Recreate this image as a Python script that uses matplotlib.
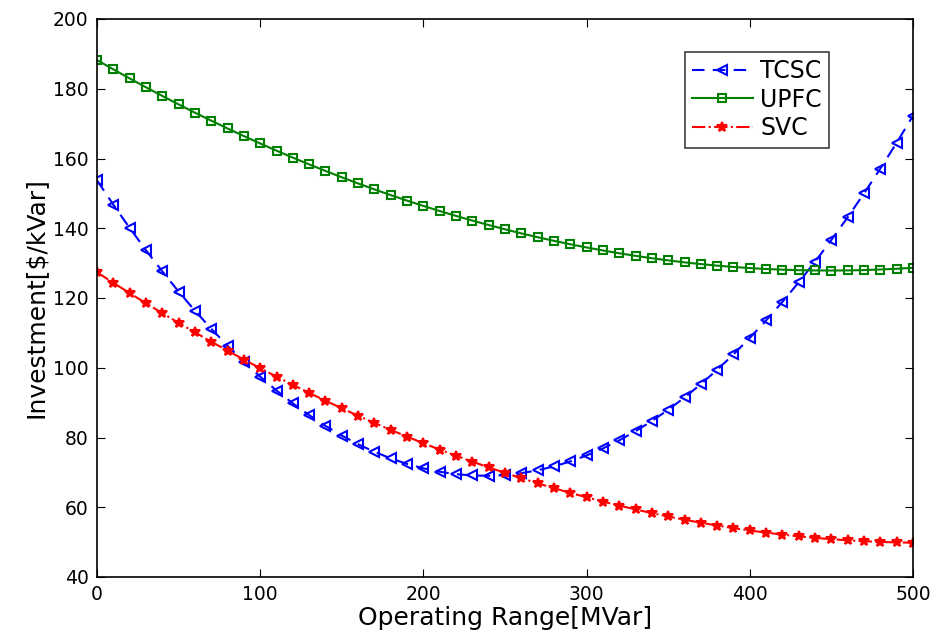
import matplotlib
matplotlib.use("Agg")
import matplotlib.pyplot as plt

x = list(range(0, 501, 10))

tcsc = [153.75, 146.77, 140.09, 133.71, 127.63, 121.85, 116.37, 111.19, 106.31, 101.73,
        97.45, 93.47, 89.79, 86.41, 83.33, 80.55, 78.07, 75.89, 74.01, 72.43,
        71.15, 70.17, 69.49, 69.11, 69.03, 69.25, 69.77, 70.59, 71.71, 73.13,
        74.85, 76.87, 79.19, 81.81, 84.73, 87.95, 91.47, 95.29, 99.41, 103.83,
        108.55, 113.57, 118.89, 124.51, 130.43, 136.65, 143.17, 149.99, 157.11, 164.53,
        172.25]

upfc = [188.22, 185.56, 182.96, 180.42, 177.94, 175.52, 173.15, 170.85, 168.61, 166.43,
        164.31, 162.25, 160.25, 158.31, 156.43, 154.61, 152.84, 151.14, 149.50, 147.92,
        146.40, 144.94, 143.54, 142.20, 140.92, 139.70, 138.53, 137.43, 136.39, 135.41,
        134.49, 133.63, 132.83, 132.09, 131.41, 130.79, 130.22, 129.72, 129.28, 128.90,
        128.58, 128.32, 128.12, 127.98, 127.90, 127.88, 127.91, 128.01, 128.17, 128.39,
        128.67]

svc = [127.38, 124.36, 121.40, 118.50, 115.66, 112.88, 110.15, 107.49, 104.89, 102.35,
       99.87, 97.45, 95.09, 92.79, 90.55, 88.37, 86.24, 84.18, 82.18, 80.24,
       78.36, 76.54, 74.78, 73.08, 71.44, 69.86, 68.33, 66.87, 65.47, 64.13,
       62.85, 61.63, 60.47, 59.37, 58.33, 57.35, 56.42, 55.56, 54.76, 54.02,
       53.34, 52.72, 52.16, 51.66, 51.22, 50.84, 50.51, 50.25, 50.05, 49.91,
       49.83]

xticks = [0, 100, 200, 300, 400, 500]
yticks = [40, 60, 80, 100, 120, 140, 160, 180, 200]

fig = plt.figure(figsize=(9.36, 6.31), dpi=100)
ax = fig.add_axes([97/936, 1 - 577/631, (913-97)/936, (577-19)/631])

ax.plot(x, tcsc, color="#0000ff", linestyle=(0, (6, 4)), linewidth=1.5,
        marker="<", markersize=7, markerfacecolor="none", markeredgewidth=1.5, label="TCSC")
ax.plot(x, upfc, color="#008000", linestyle="-", linewidth=1.5,
        marker="s", markersize=6, markerfacecolor="none", markeredgewidth=1.5, label="UPFC")
ax.plot(x, svc, color="#ff0000", linestyle="-.", linewidth=1.5,
        marker="*", markersize=7, markeredgewidth=1.5, label="SVC")

ax.set_xlim(0, 500)
ax.set_ylim(40, 200)
ax.set_xticks(xticks)
ax.set_yticks(yticks)
ax.tick_params(direction="in", top=True, right=True, labelsize=13.5, length=6, pad=6)
for s in ax.spines.values():
    s.set_linewidth(1.2)
ax.set_xlabel("Operating Range[MVar]", fontsize=18, labelpad=1)
ax.set_ylabel("Investment[$/kVar]", fontsize=18, labelpad=4)

leg = ax.legend(loc="upper right", bbox_to_anchor=(0.897, 0.941), borderaxespad=0,
                fontsize=17, fancybox=False, edgecolor="#404040", framealpha=1,
                handlelength=2.6, borderpad=0.3, labelspacing=0.2, handletextpad=0.3)
leg.get_frame().set_linewidth(1.2)

fig.savefig("out.png", dpi=100)
